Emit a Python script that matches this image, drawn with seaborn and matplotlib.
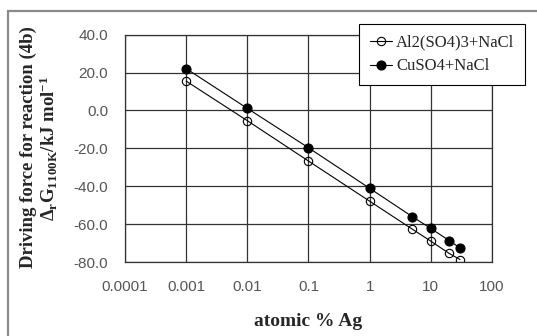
"""
Driving force for reaction (4b) vs atomic % Ag, two salt mixtures.
"""
import matplotlib
matplotlib.use('Agg')
import matplotlib.pyplot as plt
import matplotlib.patches as patches
import seaborn as sns

# data
x_pct = [0.001, 0.01, 0.1, 1, 5, 10, 20, 30]
g_al = [15.5, -5.4, -26.7, -47.9, -62.7, -69.0, -75.5, -78.7]
g_cu = [22.1, 1.1, -19.7, -41.1, -56.1, -62.3, -68.7, -72.6]
series_labels = ['Al2(SO4)3+NaCl', 'CuSO4+NaCl']

x_ticks = [0.0001, 0.001, 0.01, 0.1, 1, 10, 100]
x_tick_labels = ['0.0001', '0.001', '0.01', '0.1', '1', '10', '100']
y_ticks = [40, 20, 0, -20, -40, -60, -80]

sns.set_theme(style='white')
plt.rcParams['font.family'] = ['Liberation Serif', 'DejaVu Serif']
plt.rcParams['axes.unicode_minus'] = False
plt.rcParams['mathtext.fontset'] = 'custom'
plt.rcParams['mathtext.rm'] = 'Liberation Serif:bold'
plt.rcParams['mathtext.it'] = 'Liberation Serif:bold'
plt.rcParams['mathtext.bf'] = 'Liberation Serif:bold'

W, H = 537, 336
fig = plt.figure(figsize=(W / 100, H / 100), dpi=100)
ax = fig.add_axes([125 / W, 1 - 262 / H, (492 - 125) / W, (262 - 34.7) / H])

# outer chart frame (runs off the right and bottom edges)
fig.patches.append(patches.Rectangle((8 / W, -0.05), 1.1, 1 - 11 / H + 0.05,
                                     transform=fig.transFigure, fill=False,
                                     edgecolor='#8a8a8a', linewidth=1.6,
                                     clip_on=False))

sns.lineplot(x=x_pct, y=g_al, ax=ax, color='black', linewidth=0.8,
             marker='o', markersize=6, markerfacecolor='none',
             markeredgecolor='black', markeredgewidth=0.8,
             label=series_labels[0])
sns.lineplot(x=x_pct, y=g_cu, ax=ax, color='black', linewidth=0.8,
             marker='o', markersize=6.5, markerfacecolor='black',
             markeredgecolor='black', markeredgewidth=0.8,
             label=series_labels[1])

ax.set_xscale('log')
ax.set_xlim(0.0001, 100)
ax.set_ylim(-80, 40)
ax.set_xticks(x_ticks)
ax.set_xticklabels(x_tick_labels)
ax.minorticks_off()
ax.set_yticks(y_ticks)
ax.set_yticklabels([f'{v:.1f}' for v in y_ticks])
ax.grid(True, color='#333333', linewidth=0.9)
for s in ax.spines.values():
    s.set_color('#333333')
    s.set_linewidth(0.9)
ax.tick_params(axis='both', direction='out', length=4, width=0.9,
               color='#333333', labelsize=11, labelcolor='#555555')
ax.tick_params(axis='x', pad=9)
ax.tick_params(axis='y', pad=8)
for t in ax.get_xticklabels() + ax.get_yticklabels():
    t.set_fontfamily('Liberation Sans')
ax.set_xlabel('')
ax.set_ylabel('')

fig.text(308.5 / W, 1 - 322 / H, 'atomic % Ag', ha='center', va='center',
         fontsize=14, fontweight='bold')
fig.text(28 / W, 1 - 147 / H, 'Driving force for reaction (4b)',
         rotation=90, ha='center', va='center', fontsize=13.5, fontweight='bold')
fig.text(49 / W, 1 - 148 / H,
         r'$\Delta_\mathrm{r}\mathrm{G}_\mathrm{1100K}$/kJ mol$^\mathrm{-1}$',
         rotation=90, ha='center', va='center', fontsize=13.5, fontweight='bold')

leg = ax.legend(loc='upper right', bbox_to_anchor=(525 / W, 1 - 24 / H),
                bbox_transform=fig.transFigure, fontsize=12, frameon=True,
                fancybox=False, edgecolor='black', framealpha=1,
                handlelength=1.3, handletextpad=0.25, borderpad=0.65,
                labelspacing=0.45, borderaxespad=0)
leg.get_frame().set_linewidth(0.8)

fig.savefig('out.png', dpi=100)
